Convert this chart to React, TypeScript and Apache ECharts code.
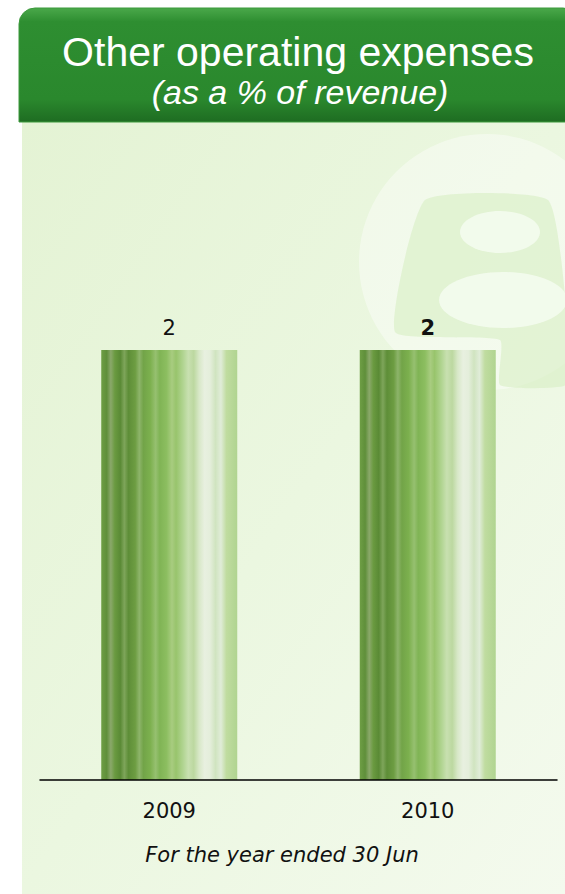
import React, { useEffect, useRef } from "react";
import * as echarts from "echarts";

const categories = ["2009", "2010"];
const values = [2, 2];
const boldLabel = [false, true];
const titleText = "Other operating expenses";
const subtitleText = "(as a % of revenue)";
const xAxisTitle = "For the year ended 30 Jun";

const stripeStops: [number, string][] = [
  [0, "#6e9e45"], [0.04, "#5f8f3a"], [0.07, "#8aa86a"], [0.1, "#6a9a40"],
  [0.14, "#5a8a35"], [0.17, "#7ea55a"], [0.2, "#5e8e38"], [0.25, "#6d9d42"],
  [0.28, "#8db46a"], [0.31, "#72a448"], [0.36, "#7cb04e"], [0.4, "#96c070"],
  [0.43, "#80b455"], [0.48, "#8cbe60"], [0.52, "#a8cc80"], [0.55, "#98c46c"],
  [0.6, "#b0d490"], [0.64, "#c8e0b0"], [0.68, "#bcd8a0"], [0.72, "#d8e8c8"],
  [0.76, "#e8f0e0"], [0.8, "#e4eedb"], [0.84, "#d0e4c0"], [0.88, "#e0ecd8"],
  [0.92, "#c0dca0"], [1, "#b0d490"],
];

export default function App() {
  const ref = useRef<HTMLDivElement>(null);
  useEffect(() => {
    if (!ref.current) return;
    const chart = echarts.init(ref.current, null, { renderer: "svg" });
    const barColor = new echarts.graphic.LinearGradient(
      0, 0, 1, 0,
      stripeStops.map(([offset, color]) => ({ offset, color }))
    );
    chart.setOption({
      animation: false,
      backgroundColor: "#ffffff",
      grid: { left: 40, right: 8, top: 135, bottom: 114 },
      xAxis: {
        type: "category",
        data: categories,
        axisLine: { show: true, lineStyle: { color: "#000000", width: 1.5 } },
        axisTick: { show: false },
        axisLabel: {
          color: "#111111",
          fontSize: 21,
          fontFamily: "DejaVu Sans",
          margin: 20,
        },
        z: 5,
      },
      yAxis: { type: "value", min: 0, max: 3, show: false },
      series: [
        {
          type: "bar",
          barWidth: 136,
          data: values.map((v, i) => ({
            value: v,
            label: { fontWeight: boldLabel[i] ? "bold" : "normal" },
          })),
          itemStyle: { color: barColor },
          label: {
            show: true,
            position: "top",
            distance: 12,
            color: "#111111",
            fontSize: 21,
            fontFamily: "DejaVu Sans",
          },
          z: 3,
        },
      ],
      graphic: [
        {
          type: "rect",
          z: -20,
          shape: { x: 22, y: 118, width: 543, height: 776 },
          style: {
            fill: new echarts.graphic.LinearGradient(0, 0, 1, 1, [
              { offset: 0, color: "#e4f3d4" },
              { offset: 0.5, color: "#ebf7e0" },
              { offset: 1, color: "#f4faee" },
            ]),
          },
        },
        {
          type: "circle",
          z: -19,
          shape: { cx: 487, cy: 262, r: 128 },
          style: { fill: "rgba(255,255,255,0.4)" },
        },
        {
          type: "polygon",
          z: -18,
          shape: {
            points: [[425, 200], [548, 200], [568, 330], [566, 385], [500, 385], [500, 340], [395, 332]],
            smooth: 0.15,
          },
          style: { fill: "rgba(215,238,195,0.6)" },
        },
        {
          type: "ellipse",
          z: -17,
          shape: { cx: 500, cy: 232, rx: 40, ry: 21 },
          style: { fill: "rgba(245,251,240,0.85)" },
        },
        {
          type: "ellipse",
          z: -17,
          shape: { cx: 503, cy: 300, rx: 64, ry: 28 },
          style: { fill: "rgba(245,251,240,0.85)" },
        },
        {
          type: "rect",
          z: 10,
          shape: { x: 19, y: 8, width: 560, height: 114, r: [16, 16, 0, 0] },
          style: {
            fill: new echarts.graphic.LinearGradient(0, 0, 0, 1, [
              { offset: 0, color: "#4aa84a" },
              { offset: 0.12, color: "#2e8e31" },
              { offset: 0.8, color: "#2a882d" },
              { offset: 1, color: "#1e6c22" },
            ]),
            stroke: "#3d9a3d",
            lineWidth: 1,
          },
        },
        {
          type: "text",
          z: 11,
          x: 298,
          y: 52,
          style: {
            text: titleText,
            fill: "#ffffff",
            font: "41px 'Liberation Sans', Arial, sans-serif",
            align: "center",
            verticalAlign: "middle",
          },
        },
        {
          type: "text",
          z: 11,
          x: 300,
          y: 92,
          style: {
            text: subtitleText,
            fill: "#ffffff",
            font: "italic 34px 'Liberation Sans', Arial, sans-serif",
            align: "center",
            verticalAlign: "middle",
          },
        },
        {
          type: "text",
          z: 11,
          x: 282,
          y: 855,
          style: {
            text: xAxisTitle,
            fill: "#111111",
            font: "italic 21px 'DejaVu Sans', sans-serif",
            align: "center",
            verticalAlign: "middle",
          },
        },
      ],
    });
    return () => chart.dispose();
  }, []);
  return (
    <div
      ref={ref}
      style={{ position: "fixed", left: 0, top: 0, width: 565, height: 894 }}
    />
  );
}
